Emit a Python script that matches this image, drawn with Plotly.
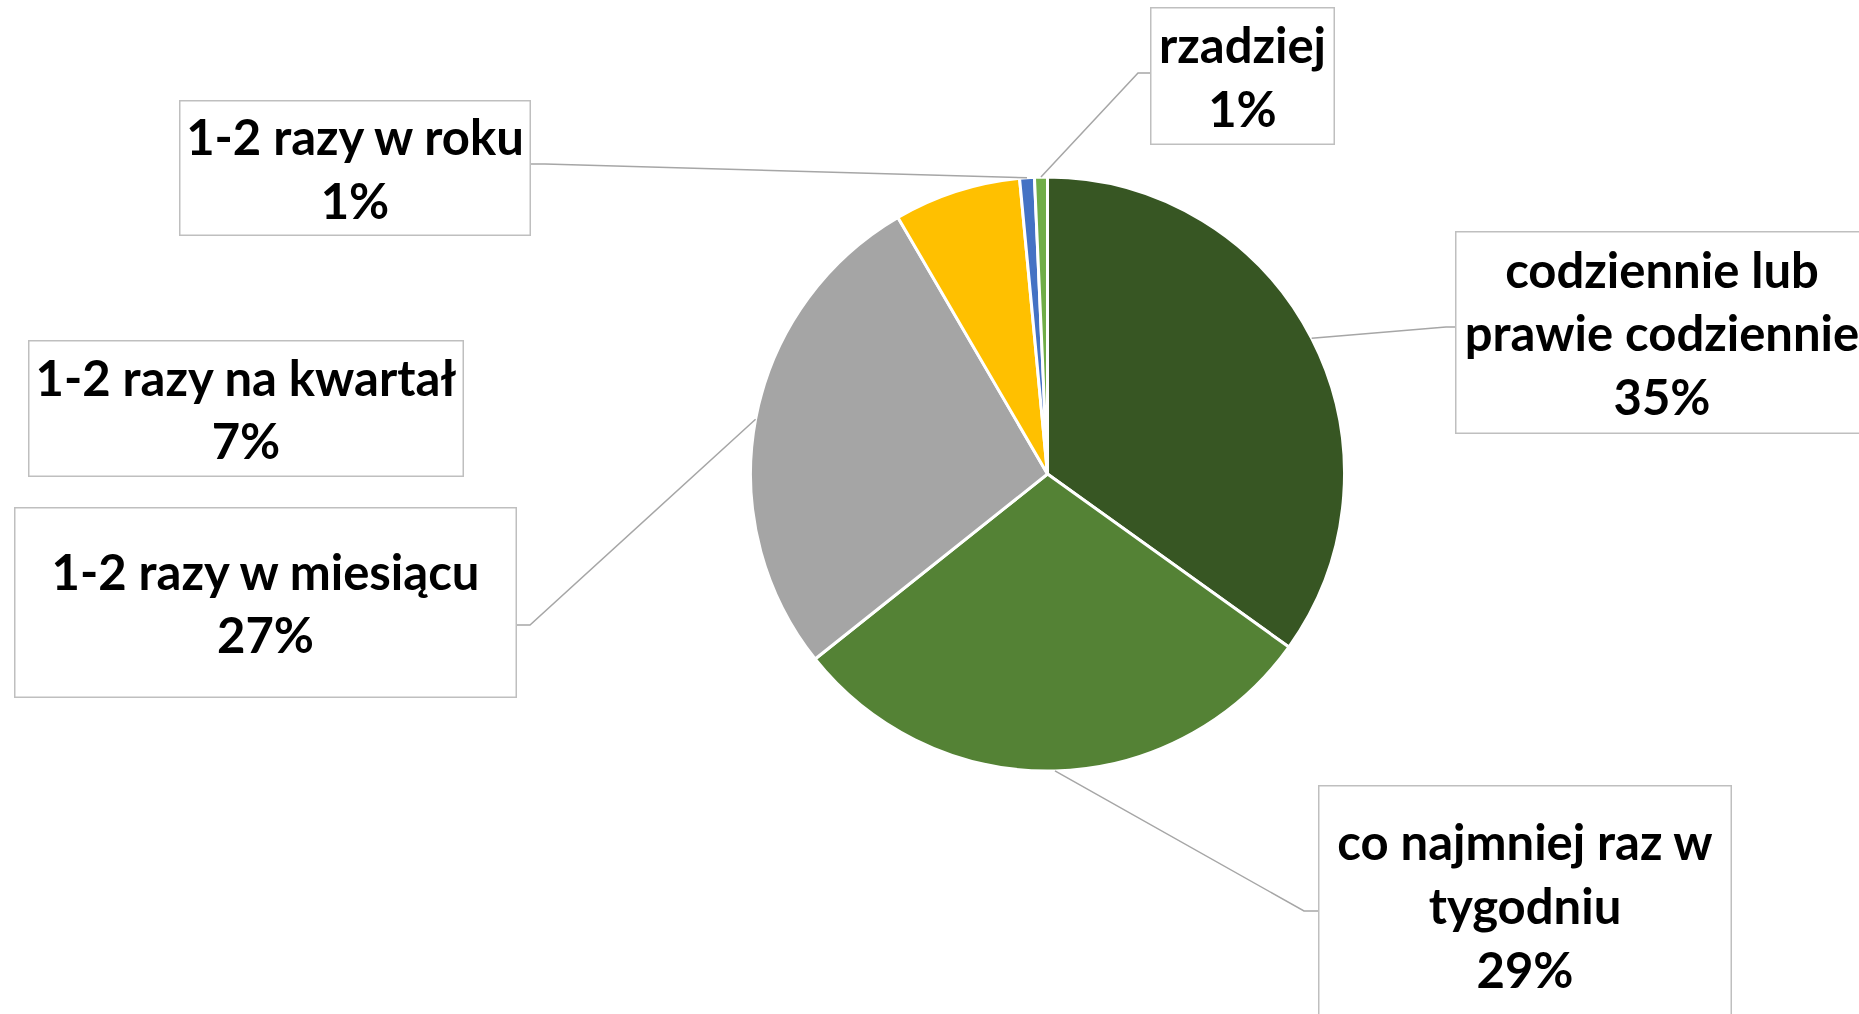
import math
import plotly.graph_objects as go

# ---- data ----
categories = ["codziennie lub prawie codziennie", "co najmniej raz w tygodniu",
              "1-2 razy w miesiącu", "1-2 razy na kwartał", "1-2 razy w roku", "rzadziej"]
values = [34.9, 29.4, 27.3, 6.9, 0.8, 0.7]
display_names = ["codziennie lub<br>prawie codziennie", "co najmniej raz w<br>tygodniu",
                 "1-2 razy w miesiącu", "1-2 razy na kwartał", "1-2 razy w roku", "rzadziej"]

# ---- style ----
W, H = 1859, 1014
colors = ["#375623", "#548235", "#A5A5A5", "#FFC000", "#4472C4", "#70AD47"]
CX, CY, R = 1047.5, 474.0, 297.0
# label boxes (pixels): x0, y0, x1, y1
boxes = [(1455, 231, 1869, 434), (1318, 785, 1732, 1025), (14, 507, 517, 698),
         (28, 340, 464, 477), (179, 100, 531, 236), (1150, 7, 1335, 145)]
# leader line elbow point and box attach point (None = no leader line)
elbows = [((1446, 327), (1455, 327)), ((1304, 911), (1318, 911)), ((530, 625), (517, 625)),
          None, ((545, 164), (531, 164)), ((1138, 73), (1150, 73))]
line_color = "#A6A6A6"
box_border = "#BFBFBF"
font_family = "Lato"
font_size = 49


def px(x):
    return x / W


def py(y):
    return 1 - y / H


fig = go.Figure()
fig.add_trace(go.Pie(
    labels=categories, values=values, sort=False, direction="clockwise", rotation=0,
    marker=dict(colors=colors, line=dict(color="white", width=3)),
    textinfo="none", hoverinfo="label+percent", showlegend=False,
    domain=dict(x=[px(CX - R), px(CX + R)], y=[py(CY + R), py(CY - R)]),
))

total = sum(values)
shapes = []
annotations = []
cum = 0.0
for i, v in enumerate(values):
    mid = (cum + v / 2) / total * 2 * math.pi
    cum += v
    ex = CX + R * math.sin(mid)
    ey = CY - R * math.cos(mid)
    if elbows[i] is not None:
        (bx, by), (ax, ay) = elbows[i]
        shapes.append(dict(type="path", xref="paper", yref="paper",
                           path=f"M {px(ex)},{py(ey)} L {px(bx)},{py(by)} L {px(ax)},{py(ay)}",
                           line=dict(color=line_color, width=1.5)))
    x0, y0, x1, y1 = boxes[i]
    bw = 1.5
    annotations.append(dict(
        xref="paper", yref="paper", x=px(x0), y=py(y0), xanchor="left", yanchor="top",
        text=f"{display_names[i]}<br>{round(v / total * 100)}%",
        showarrow=False, align="center", valign="middle",
        width=(x1 - x0) - 2 * bw, height=(y1 - y0) - 2 * bw,
        bgcolor="white", bordercolor=box_border, borderwidth=bw, borderpad=0,
        font=dict(family=font_family, size=font_size, color="black", weight="bold"),
    ))

fig.update_layout(
    width=W, height=H, margin=dict(l=0, r=0, t=0, b=0),
    paper_bgcolor="white", plot_bgcolor="white",
    shapes=shapes, annotations=annotations,
)

fig.write_html("out.html")
